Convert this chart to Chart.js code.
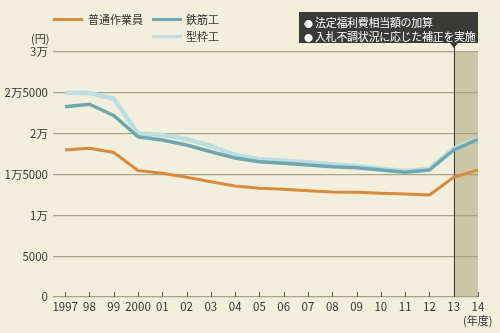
<!DOCTYPE html>
<html><head><meta charset="utf-8">
<script src="https://cdn.jsdelivr.net/npm/chart.js@4/dist/chart.umd.min.js"></script>
<style>
html,body{margin:0;padding:0;background:#f2efdc;}
#wrap{position:relative;width:500px;height:333px;overflow:hidden;font-family:"Noto Sans CJK JP","Noto Sans",sans-serif;color:#333;}
canvas{position:absolute;left:0;top:0;}
.lg{position:absolute;font-size:11px;line-height:13px;white-space:nowrap;}
.sw{position:absolute;width:30px;height:3px;}
#note{position:absolute;left:299px;top:12px;width:179px;height:31px;background:#3a3a38;color:#fff;font-size:11px;line-height:12px;box-sizing:border-box;padding:4px 0 0 5px;white-space:nowrap;letter-spacing:-0.3px;}
#note .b{font-size:9px;display:inline-block;width:11px;letter-spacing:0;}
#tri{position:absolute;left:450px;top:43px;width:0;height:0;border-left:4px solid transparent;border-right:4px solid transparent;border-top:5px solid #3a3a38;}
</style></head>
<body><div id="wrap">
<canvas id="c" width="500" height="333"></canvas>
<div class="sw" style="left:53px;top:18px;background:#d98a3b"></div><div class="lg" style="left:88px;top:13px">普通作業員</div>
<div class="sw" style="left:152px;top:18px;background:#6ea7b1"></div><div class="lg" style="left:186px;top:13px">鉄筋工</div>
<div class="sw" style="left:152px;top:35px;background:#bcdde2"></div><div class="lg" style="left:186px;top:30px">型枠工</div>
<div class="lg" style="left:31px;top:32px">(円)</div>
<div class="lg" style="left:463px;top:314px">(年度)</div>
<div id="note"><span class="b">●</span>法定福利費相当額の加算<br><span class="b">●</span>入札不調状況に応じた補正を実施</div>
<div id="tri"></div>
</div>
<script>
const years = [1997,1998,1999,2000,2001,2002,2003,2004,2005,2006,2007,2008,2009,2010,2011,2012,2013,2014];
const yearLabels = ["1997","98","99","2000","01","02","03","04","05","06","07","08","09","10","11","12","13","14"];
const futsuu = [18000,18210,17690,15490,15150,14660,14120,13590,13310,13190,13020,12860,12830,12700,12610,12490,14660,15550];
const tekkin = [23300,23600,22220,19630,19220,18610,17790,17020,16570,16370,16160,15960,15830,15550,15270,15550,18000,19310];
const katawaku = [25000,24980,24270,20040,19840,19350,18490,17390,16860,16690,16490,16250,16040,15710,15430,15710,18180,19410];
const yTickValues = [0,5000,10000,15000,20000,25000,30000];
const yTickLabels = ["0","5000","1万","1万5000","2万","2万5000","3万"];
const bandStart = 2013, bandEnd = 2014;

const pts = arr => arr.map((v,i)=>({x:years[i],y:v}));
const tickFont = {family:'"Liberation Sans Narrow","Noto Sans CJK JP",sans-serif', size:11.5};

const extras = {
  id:'extras',
  beforeDraw(chart){
    const {ctx, chartArea:a, scales:{x}} = chart;
    const x1 = x.getPixelForValue(bandStart), x2 = x.getPixelForValue(bandEnd);
    ctx.save();
    ctx.fillStyle = '#cbc8a7';
    ctx.fillRect(x1, a.top, x2-x1, a.bottom-a.top);
    ctx.restore();
  },
  beforeDatasetsDraw(chart){
    const {ctx, chartArea:a, scales:{x}} = chart;
    ctx.save();
    ctx.strokeStyle = '#555';
    ctx.lineWidth = 1;
    years.forEach(yr=>{
      const px = Math.round(x.getPixelForValue(yr))+0.5;
      ctx.beginPath(); ctx.moveTo(px,a.bottom); ctx.lineTo(px,a.bottom-5); ctx.stroke();
    });
    const px = Math.round(x.getPixelForValue(bandStart))+0.5;
    ctx.strokeStyle = '#3a3a38';
    ctx.beginPath(); ctx.moveTo(px,46); ctx.lineTo(px,a.bottom); ctx.stroke();
    ctx.restore();
  }
};

new Chart(document.getElementById('c'), {
  type:'line',
  data:{datasets:[
    {label:'普通作業員', data:pts(futsuu), borderColor:'#d98a3b', borderWidth:3},
    {label:'鉄筋工', data:pts(tekkin), borderColor:'#6ea7b1', borderWidth:3.5},
    {label:'型枠工', data:pts(katawaku), borderColor:'#bcdde2', borderWidth:4.5}
  ]},
  options:{
    responsive:false, animation:false,
    elements:{point:{radius:0}, line:{tension:0, borderCapStyle:'butt', borderJoinStyle:'round'}},
    layout:{padding:{left:0,right:22,top:52,bottom:0}},
    plugins:{legend:{display:false}, tooltip:{enabled:false}},
    scales:{
      x:{type:'linear', min:1996.5, max:2014,
        afterBuildTicks:s=>{s.ticks = years.map(v=>({value:v}));},
        afterFit:s=>{s.height=36;},
        grid:{display:false, drawTicks:false}, border:{display:false},
        ticks:{autoSkip:false, maxRotation:0, padding:3, color:'#333', font:tickFont,
          callback:(v)=>{const i=years.indexOf(v); return i>=0?yearLabels[i]:'';}}
      },
      y:{min:0, max:30000,
        afterBuildTicks:s=>{s.ticks = yTickValues.map(v=>({value:v}));},
        afterFit:s=>{s.width=53;},
        grid:{color:'#a7a38d', lineWidth:1.3, drawTicks:false}, border:{display:false},
        ticks:{padding:5, color:'#333', font:tickFont,
          callback:(v)=>{const i=yTickValues.indexOf(v); return i>=0?yTickLabels[i]:'';}}
      }
    }
  },
  plugins:[extras]
});
</script>
</body></html>
